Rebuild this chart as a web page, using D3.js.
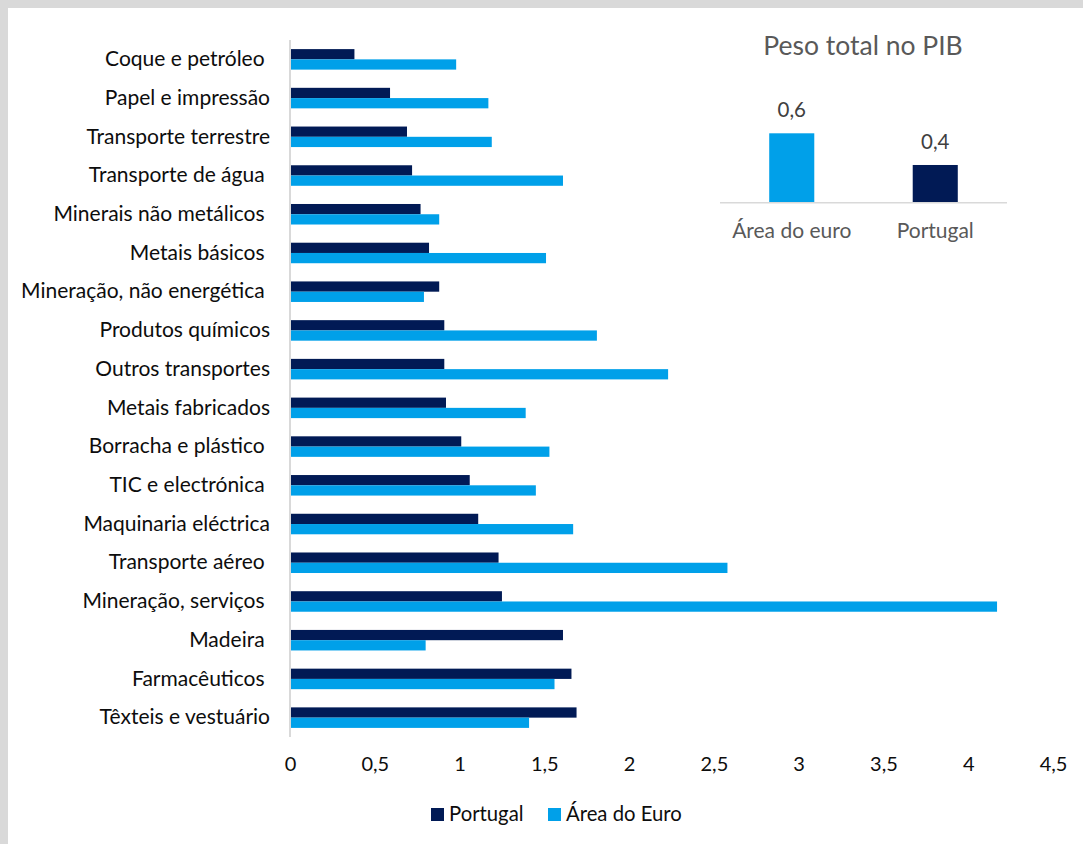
<!DOCTYPE html>
<html>
<head>
<meta charset="utf-8">
<script src="https://cdn.jsdelivr.net/npm/d3@7"></script>
<style>
  body { margin: 0; background: #ffffff; }
  svg { display: block; }
  text { font-family: Lato, "Open Sans", sans-serif; white-space: pre; }
</style>
</head>
<body>
<svg id="chart" width="1083" height="844"></svg>
<script>
// Sector categories (top to bottom)
const sectors = [
  "Coque e petróleo ",
  "Papel e impressão",
  "Transporte terrestre",
  "Transporte de água ",
  "Minerais não metálicos ",
  "Metais básicos ",
  "Mineração, não energética ",
  "Produtos químicos",
  "Outros transportes",
  "Metais fabricados",
  "Borracha e plástico ",
  "TIC e electrónica ",
  "Maquinaria eléctrica",
  "Transporte aéreo ",
  "Mineração, serviços ",
  "Madeira ",
  "Farmacêuticos ",
  "Têxteis e vestuário"
];
const portugal = [0.38, 0.59, 0.69, 0.72, 0.77, 0.82, 0.88, 0.91, 0.91, 0.92, 1.01, 1.06, 1.11, 1.23, 1.25, 1.61, 1.66, 1.69];
const areaEuro = [0.98, 1.17, 1.19, 1.61, 0.88, 1.51, 0.79, 1.81, 2.23, 1.39, 1.53, 1.45, 1.67, 2.58, 4.17, 0.80, 1.56, 1.41];
const xTicks = [0, 0.5, 1, 1.5, 2, 2.5, 3, 3.5, 4, 4.5];
const seriesNames = ["Portugal", "Área do Euro"];

// Inset: total weight in GDP
const insetTitle = "Peso total no PIB";
const insetCategories = ["Área do euro", "Portugal"];
const insetValues = [0.6, 0.4];

const DARK = "#011a55";
const LIGHT = "#00a0e9";
const fmt = v => String(v).replace(".", ",");

const svg = d3.select("#chart");

// Frame: grey strip on top and left edges
svg.append("rect").attr("width", 1083).attr("height", 844).attr("fill", "#d9d9d9");
svg.append("rect").attr("x", 8).attr("y", 8).attr("width", 1075).attr("height", 836).attr("fill", "#ffffff");

// Main bar chart scales
const x = d3.scaleLinear().domain([0, 4.5]).range([290, 1053]);
const y = d3.scaleBand().domain(sectors).range([40, 737]).paddingInner(0.47).paddingOuter(0.235);
const ySub = d3.scaleBand().domain(seriesNames).range([0, y.bandwidth()]);

const rows = sectors.map((s, i) => ({ s, pt: portugal[i], ea: areaEuro[i] }));

const g = svg.append("g");
const row = g.selectAll("g.row").data(rows).join("g")
  .attr("class", "row")
  .attr("transform", d => `translate(0,${y(d.s)})`);

row.append("rect")
  .attr("x", x(0)).attr("y", ySub("Portugal"))
  .attr("width", d => x(d.pt) - x(0)).attr("height", ySub.bandwidth())
  .attr("fill", DARK);
row.append("rect")
  .attr("x", x(0)).attr("y", ySub("Área do Euro"))
  .attr("width", d => x(d.ea) - x(0)).attr("height", ySub.bandwidth())
  .attr("fill", LIGHT);

// Category axis
const yAxis = g.append("g").attr("transform", `translate(${x(0)},0)`)
  .call(d3.axisLeft(y).tickSize(0).tickPadding(20));
yAxis.select(".domain").attr("stroke", "#d9d9d9").attr("stroke-width", 2)
  .attr("d", `M0,40V737`);
yAxis.selectAll("text")
  .attr("font-size", 21).attr("fill", "#0d0d0d")
  .attr("font-family", "Lato, sans-serif");

// Value axis (labels only)
const xAxis = g.append("g").attr("transform", "translate(0,737)")
  .call(d3.axisBottom(x).tickValues(xTicks).tickFormat(fmt).tickSize(0).tickPadding(20));
xAxis.select(".domain").remove();
xAxis.selectAll("text")
  .attr("font-size", 20).attr("fill", "#0d0d0d")
  .attr("font-family", "Lato, sans-serif");

// Legend
const legend = svg.append("g").attr("transform", "translate(431,808)");
const legItems = [
  { name: seriesNames[0], color: DARK, x: 0 },
  { name: seriesNames[1], color: LIGHT, x: 117 }
];
const li = legend.selectAll("g").data(legItems).join("g")
  .attr("transform", d => `translate(${d.x},0)`);
li.append("rect").attr("width", 13).attr("height", 13).attr("fill", d => d.color);
li.append("text").attr("x", 18).attr("y", 13)
  .attr("font-size", 20.3).attr("fill", "#0d0d0d").text(d => d.name);

// Inset column chart
const ix = d3.scaleBand().domain(insetCategories).range([720, 1007]).paddingInner(0.686).paddingOuter(0.343);
const iy = d3.scaleLinear().domain([0.162, 0.6]).range([202.7, 133.3]);
const inset = svg.append("g");
inset.append("text")
  .attr("x", 863).attr("y", 55).attr("text-anchor", "middle")
  .attr("font-size", 26.5).attr("fill", "#595959").text(insetTitle);

const insetData = insetCategories.map((c, i) => ({ c, v: insetValues[i], color: i === 0 ? LIGHT : DARK }));
inset.selectAll("rect.ibar").data(insetData).join("rect")
  .attr("class", "ibar")
  .attr("x", d => ix(d.c)).attr("y", d => iy(d.v))
  .attr("width", ix.bandwidth()).attr("height", d => iy.range()[0] - iy(d.v))
  .attr("fill", d => d.color);
inset.selectAll("text.ival").data(insetData).join("text")
  .attr("class", "ival")
  .attr("x", d => ix(d.c) + ix.bandwidth() / 2).attr("y", d => iy(d.v) - 16)
  .attr("text-anchor", "middle").attr("font-size", 20.5).attr("fill", "#404040")
  .text(d => fmt(d.v));
inset.append("line")
  .attr("x1", 720).attr("x2", 1007).attr("y1", 202.7).attr("y2", 202.7)
  .attr("stroke", "#d9d9d9").attr("stroke-width", 1.5);
inset.selectAll("text.icat").data(insetData).join("text")
  .attr("class", "icat")
  .attr("x", d => ix(d.c) + ix.bandwidth() / 2).attr("y", 238)
  .attr("text-anchor", "middle").attr("font-size", 21).attr("fill", "#595959")
  .text(d => d.c);
</script>
</body>
</html>
